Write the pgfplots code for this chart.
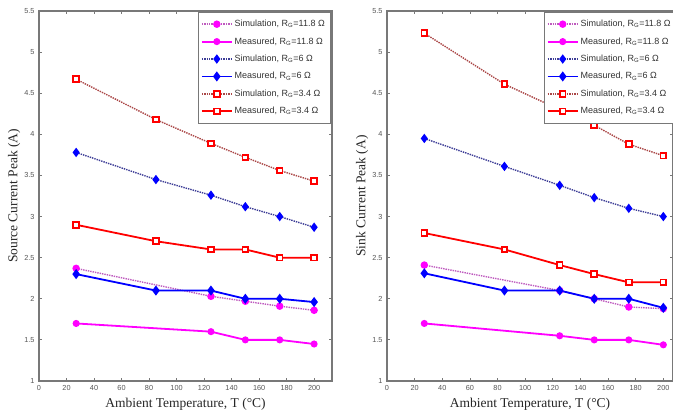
\documentclass[border=0pt]{standalone}
\usepackage{pgfplots}
\pgfplotsset{compat=1.18}
\usepackage{fontspec}
\setmainfont{Liberation Serif}
\setsansfont{Liberation Sans}
\definecolor{axgray}{RGB}{120,120,120}
\definecolor{tlgray}{RGB}{85,85,85}
\definecolor{mag}{RGB}{255,0,255}
\definecolor{simmag}{RGB}{190,90,190}
\definecolor{simblue}{RGB}{60,60,150}
\definecolor{simred}{RGB}{170,70,70}
\begin{document}
\begin{tikzpicture}[x=1pt,y=1pt]
\useasboundingbox (0,0) rectangle (673,416);
\pgfplotsset{
  myax/.style={
    scale only axis, height=370pt,
    xmin=0, ymin=1, ymax=5.5,
    xtick={0,20,...,200}, ytick={1,1.5,...,5.5},
    tick align=inside, major tick length=3pt,
    axis line style={axgray, line width=1.2pt},
    every tick/.style={axgray, line width=0.8pt},
    tick label style={font=\sffamily\fontsize{7.3}{8}\selectfont, text=tlgray},
    /pgf/number format/assume math mode=true,
    yticklabel style={xshift=-1pt},
    xticklabel style={yshift=-1pt},
    label style={font=\fontsize{13.5}{15}\selectfont, text=black!85},
    xlabel={Ambient Temperature, T (°C)},
    xlabel style={at={(axis description cs:0.5,-0.062)}, anchor=center},
    legend style={draw=axgray, fill=white,
      font=\sffamily\fontsize{9}{10}\selectfont, text=black!80,
      row sep=5.4pt, inner xsep=3pt, inner ysep=5.5pt, cells={anchor=west}},
    legend image code/.code={%
      \draw[##1] (0pt,0pt) -- (30pt,0pt);
      \draw[##1, solid, mark repeat=1] plot coordinates {(15pt,0pt)};},
    legend cell align=left,
  },
  s118/.style={simmag, densely dotted, line width=1.4pt, mark=*, mark size=3pt, mark options={solid, fill=mag, draw=mag}},
  m118/.style={mag, solid, line width=1.8pt, mark=*, mark size=2.6pt, mark options={solid, fill=mag, draw=mag}},
  s6/.style={simblue, densely dotted, line width=1.4pt, mark=diamond*, mark size=3.6pt, mark options={solid, fill=blue, draw=blue}},
  m6/.style={blue, solid, line width=1.8pt, mark=diamond*, mark size=3.6pt, mark options={solid, fill=blue, draw=blue}},
  s34/.style={simred, densely dotted, line width=1.4pt, mark=square*, mark size=2.8pt, mark options={solid, fill=white, draw=red, line width=1.9pt}},
  m34/.style={red, solid, line width=1.8pt, mark=square*, mark size=2.8pt, mark options={solid, fill=white, draw=red, line width=1.9pt}},
}
\begin{axis}[myax, at={(39pt,35pt)}, anchor=south west, width=293pt, xmax=213,
  ylabel={Source Current Peak (A)},
  ylabel style={at={(axis description cs:-0.085,0.5)}, anchor=center},
  legend style={at={(rel axis cs:0.993,0.996)}, anchor=north east}]
\addplot[s118] coordinates {(27,2.37)(125,2.03)(150,1.97)(175,1.91)(200,1.86)};
\addlegendentry{Simulation, R\textsubscript{G}=11.8 Ω}
\addplot[m118] coordinates {(27,1.70)(125,1.60)(150,1.50)(175,1.50)(200,1.45)};
\addlegendentry{Measured, R\textsubscript{G}=11.8 Ω}
\addplot[s6] coordinates {(27,3.78)(85,3.45)(125,3.26)(150,3.12)(175,3.00)(200,2.87)};
\addlegendentry{Simulation, R\textsubscript{G}=6 Ω}
\addplot[m6] coordinates {(27,2.30)(85,2.10)(125,2.10)(150,2.00)(175,2.00)(200,1.96)};
\addlegendentry{Measured, R\textsubscript{G}=6 Ω}
\addplot[s34] coordinates {(27,4.67)(85,4.18)(125,3.89)(150,3.72)(175,3.56)(200,3.43)};
\addlegendentry{Simulation, R\textsubscript{G}=3.4 Ω}
\addplot[m34] coordinates {(27,2.90)(85,2.70)(125,2.60)(150,2.60)(175,2.50)(200,2.50)};
\addlegendentry{Measured, R\textsubscript{G}=3.4 Ω}
\end{axis}
\begin{axis}[myax, at={(387pt,35pt)}, anchor=south west, width=286pt, xmax=207,
  ylabel={Sink Current Peak (A)},
  ylabel style={at={(axis description cs:-0.087,0.5)}, anchor=center},
  legend style={at={(rel axis cs:1.01,0.996)}, anchor=north east}]
\addplot[s118] coordinates {(27,2.41)(125,2.10)(150,2.00)(175,1.90)(200,1.88)};
\addlegendentry{Simulation, R\textsubscript{G}=11.8 Ω}
\addplot[m118] coordinates {(27,1.70)(125,1.55)(150,1.50)(175,1.50)(200,1.44)};
\addlegendentry{Measured, R\textsubscript{G}=11.8 Ω}
\addplot[s6] coordinates {(27,3.95)(85,3.61)(125,3.38)(150,3.23)(175,3.10)(200,3.00)};
\addlegendentry{Simulation, R\textsubscript{G}=6 Ω}
\addplot[m6] coordinates {(27,2.31)(85,2.10)(125,2.10)(150,2.00)(175,2.00)(200,1.89)};
\addlegendentry{Measured, R\textsubscript{G}=6 Ω}
\addplot[s34] coordinates {(27,5.23)(85,4.61)(125,4.30)(150,4.11)(175,3.88)(200,3.74)};
\addlegendentry{Simulation, R\textsubscript{G}=3.4 Ω}
\addplot[m34] coordinates {(27,2.80)(85,2.60)(125,2.41)(150,2.30)(175,2.20)(200,2.20)};
\addlegendentry{Measured, R\textsubscript{G}=3.4 Ω}
\end{axis}
\end{tikzpicture}
\end{document}
